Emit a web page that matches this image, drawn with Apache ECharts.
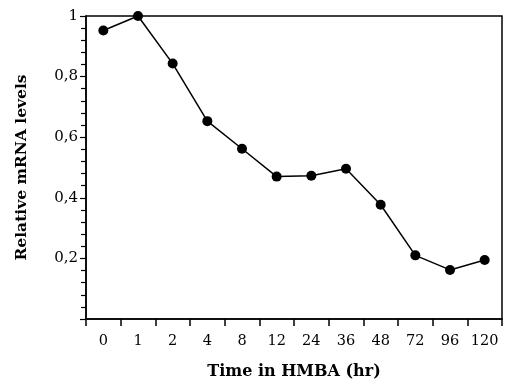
<!DOCTYPE html>
<html><head><meta charset="utf-8">
<script src="https://cdn.jsdelivr.net/npm/echarts@6/dist/echarts.min.js"></script>
<style>html,body{margin:0;padding:0;background:#fff}#c{width:506px;height:385px}</style>
</head><body><div id="c"></div>
<script>
const categories = ['0','1','2','4','8','12','24','36','48','72','96','120'];
const values = [0.952, 1.0, 0.843, 0.653, 0.562, 0.470, 0.473, 0.496, 0.377, 0.210, 0.162, 0.195];
const xTitle = 'Time in HMBA (hr)';
const yTitle = 'Relative mRNA levels';
const font = '"DejaVu Serif", "Liberation Serif", serif';
const chart = echarts.init(document.getElementById('c'));
chart.setOption({
  animation: false,
  grid: {left: 86, top: 16, right: 4, bottom: 59, show: true, borderColor: '#000', borderWidth: 1.5},
  xAxis: {
    type: 'category', data: categories, boundaryGap: true,
    axisLine: {lineStyle: {color: '#000', width: 1.5}},
    axisTick: {show: true, interval: 0, inside: false, length: 7, lineStyle: {color: '#000', width: 1.5}},
    axisLabel: {interval: 0, color: '#000', fontFamily: font, fontSize: 14.5, margin: 15},
    name: xTitle, nameLocation: 'middle', nameGap: 45,
    nameTextStyle: {color: '#000', fontFamily: font, fontSize: 16, fontWeight: 'bold'}
  },
  yAxis: {
    type: 'value', min: 0, max: 1, interval: 0.2,
    axisLine: {show: true, lineStyle: {color: '#000', width: 1.5}},
    axisTick: {show: true, length: 6, lineStyle: {color: '#000', width: 1.2}},
    minorTick: {show: true, splitNumber: 5, length: 5, lineStyle: {color: '#000', width: 1.2}},
    splitLine: {show: false},
    axisLabel: {color: '#000', fontFamily: font, fontSize: 15, margin: 8,
      formatter: v => v === 0 ? '' : (v === 1 ? '1' : v.toFixed(1).replace('.', ','))},
    name: yTitle, nameLocation: 'middle', nameGap: 56, nameRotate: 90,
    nameTextStyle: {color: '#000', fontFamily: font, fontSize: 15.5, fontWeight: 'bold'}
  },
  series: [{
    type: 'line', data: values, symbol: 'circle', symbolSize: 10,
    itemStyle: {color: '#000'}, lineStyle: {color: '#000', width: 1.5}
  }]
});
</script></body></html>
